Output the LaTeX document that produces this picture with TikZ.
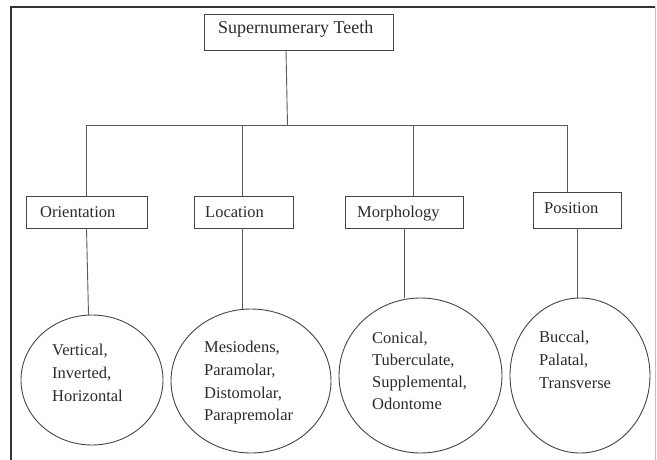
\documentclass[tikz,border=0pt]{standalone}
\usepackage{fontspec}
\setmainfont{Liberation Serif}
\usetikzlibrary{shapes.geometric}
\definecolor{linec}{HTML}{5A5A5A}
\definecolor{boxc}{HTML}{444444}
\definecolor{txtc}{HTML}{2A2A2A}
\begin{document}
\begin{tikzpicture}[x=1pt,y=-1pt,
  box/.style={draw=boxc,line width=0.9pt,rectangle,inner sep=0pt},
  oval/.style={draw=boxc,line width=0.9pt,ellipse,inner sep=0pt},
  lbl/.style={anchor=base west,inner sep=0pt,text=txtc,font=\fontsize{16.5}{23}\selectfont},
  conn/.style={draw=linec,line width=0.9pt}]
\useasboundingbox (0,0) rectangle (657,460);
% page frame
\draw[line width=1.4pt,draw=black!80] (11,460) -- (11,7) -- (655,7);
\draw[line width=1pt,draw=black!25] (655,7) -- (655,460);
% top box
\node[box,minimum width=189pt,minimum height=36pt] (top) at (298.5,32) {};
\node[lbl,font=\fontsize{18}{22}\selectfont] (ttop) at (218,34) {Supernumerary Teeth};
% category boxes
\node[box,minimum width=121pt,minimum height=32pt] (b1) at (86.5,212) {};
\node[box,minimum width=99pt,minimum height=32pt] (b2) at (243.5,212) {};
\node[box,minimum width=118pt,minimum height=32pt] (b3) at (404,212) {};
\node[box,minimum width=88pt,minimum height=36pt] (b4) at (577,210) {};
\node[lbl] (tb1) at (40,218) {Orientation};
\node[lbl] (tb2) at (205,218) {Location};
\node[lbl] (tb3) at (357,218) {Morphology};
\node[lbl] (tb4) at (544,213) {Position};
% ellipses
\node[oval,minimum width=142pt,minimum height=130pt] (c1) at (92,380) {};
\node[oval,minimum width=160pt,minimum height=144pt] (c2) at (251,381) {};
\node[oval,minimum width=163pt,minimum height=155pt] (c3) at (420.5,375.5) {};
\node[oval,minimum width=140pt,minimum height=155pt] (c4) at (580,375.5) {};
\node[lbl] (tc1) at (52,355) {\begin{tabular}[t]{@{}l@{}}Vertical,\\Inverted,\\Horizontal\end{tabular}};
\node[lbl] (tc2) at (204,352) {\begin{tabular}[t]{@{}l@{}}Mesiodens,\\Paramolar,\\Distomolar,\\Parapremolar\end{tabular}};
\node[lbl,font=\fontsize{16.5}{22}\selectfont] (tc3) at (372,343) {\begin{tabular}[t]{@{}l@{}}Conical,\\Tuberculate,\\Supplemental,\\Odontome\end{tabular}};
\node[lbl] (tc4) at (539,342) {\begin{tabular}[t]{@{}l@{}}Buccal,\\Palatal,\\Transverse\end{tabular}};
% connectors
\coordinate (bar) at (0,125);
\draw[conn] ([xshift=-12.5pt]top.south) -- ([xshift=-11pt]top.south |- bar);
\draw[conn] (b1.north) -- (b1.north |- bar) -- ([xshift=-10pt]b4.north |- bar) -- ([xshift=-10pt]b4.north);
\draw[conn] ([xshift=-1.5pt]b2.north) -- ([xshift=-1.5pt]b2.north |- bar);
\draw[conn] ([xshift=9pt]b3.north) -- ([xshift=9pt]b3.north |- bar);
\draw[conn] (b1.south) -- ([xshift=2pt]b1.south |- c1.north);
\draw[conn] ([xshift=-1.5pt]b2.south) -- ([xshift=-1.5pt]b2.south |- c2.north);
\draw[conn] (b3.south) -- (b3.south |- c3.north);
\draw[conn] (b4.south) -- (b4.south |- c4.north);
\end{tikzpicture}
\end{document}
